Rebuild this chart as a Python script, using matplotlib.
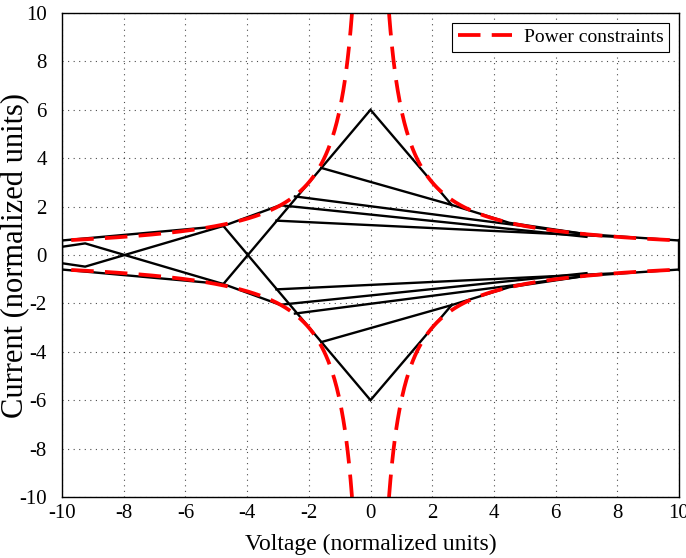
import numpy as np
import matplotlib

matplotlib.use("Agg")
import matplotlib.pyplot as plt

plt.rcParams["font.family"] = ["Liberation Serif", "DejaVu Serif"]
plt.rcParams["axes.unicode_minus"] = False

# power constraint |V * I| = P_MAX
P_MAX = 6.0
V_MIN_CURVE = 0.6

# upper-half trajectory segments (V, I); the lower half is the mirror image
long_line_v = [-4.77, 0.0, 2.63]
long_line_i = [-1.2, 6.0, 2.07]

chord_left_v = [-10.0, -4.77, -2.88]
chord_left_i = [0.6, 1.2, 2.08]

left_small_v = [-10.0, -9.25, -4.77]
left_small_i = [0.34, 0.48, -1.2]

chord_right_v = [2.63, 4.5, 7.0, 10.0]
chord_right_i = [2.07, 1.33, 0.86, 0.6]

ray_start_v = [-1.6, -2.45, -2.88, -3.05]
ray_start_i = [3.6, 2.42, 2.05, 1.42]
ray_end_v = [2.63, 7.0, 7.0, 8.0]
ray_end_i = [2.07, 0.86, 0.75, 0.75]

edge_v = [-10.0, 10.0]
edge_i = [0.6, 0.6]

ticks = np.arange(-10, 11, 2)

fig = plt.figure(figsize=(6.86, 5.58), dpi=100)
ax = fig.add_axes([0.0904, 0.1093, 0.8994, 0.8674])

kw = dict(color="black", lw=1.7, solid_joinstyle="miter")
for sign in (1, -1):
    ax.plot(long_line_v, sign * np.array(long_line_i), **kw)
    ax.plot(chord_left_v, sign * np.array(chord_left_i), **kw)
    ax.plot(left_small_v, sign * np.array(left_small_i), **kw)
    ax.plot(chord_right_v, sign * np.array(chord_right_i), **kw)
    for v0, i0, v1, i1 in zip(ray_start_v, ray_start_i, ray_end_v, ray_end_i):
        ax.plot([v0, v1], [sign * i0, sign * i1], **kw)
for v, i in zip(edge_v, edge_i):
    ax.plot([v, v], [i, -i], **kw)

# power constraint curves
vv = np.linspace(V_MIN_CURVE, 10, 400)
red = dict(color="red", lw=2.7, dashes=(6, 3))
first = True
for sv in (1, -1):
    for si in (1, -1):
        ax.plot(sv * vv, si * P_MAX / vv, label="Power constraints" if first else None, **red)
        first = False

ax.set_xlim(-10, 10)
ax.set_ylim(-10, 10)
ax.set_xticks(ticks)
ax.set_yticks(ticks)
ax.tick_params(direction="in", labelsize=15, length=0)
ax.tick_params(axis="x", pad=5)
ax.tick_params(axis="y", pad=11)
ax.grid(True, color="black", linestyle=(0, (1, 4)), lw=0.8, alpha=0.7)
for s in ax.spines.values():
    s.set_linewidth(1.0)

ax.set_xlabel("Voltage (normalized units)", fontsize=17, labelpad=8)
ax.set_ylabel("Current (normalized units)", fontsize=22)
ax.yaxis.set_label_coords(-0.052, 0.5)

leg = ax.legend(loc="upper right", fontsize=14, fancybox=False, framealpha=1,
                edgecolor="black", handlelength=2.8, handletextpad=0.6,
                borderaxespad=0.5, borderpad=0.3)
leg.get_frame().set_linewidth(0.8)

fig.savefig("out.png", dpi=100)
